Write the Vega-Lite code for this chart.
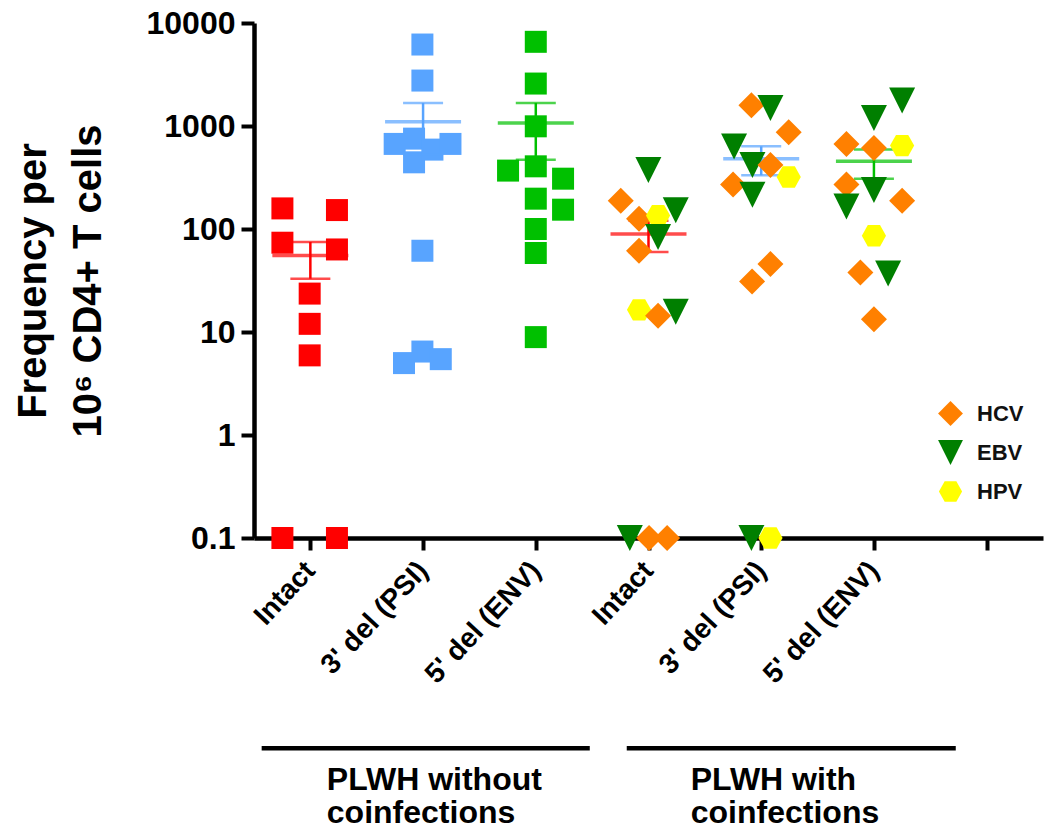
{
  "$schema": "https://vega.github.io/schema/vega-lite/v6.json",
  "autosize": {"type": "none"},
  "width": 789,
  "height": 515,
  "padding": {"left": 254, "top": 23, "right": 1, "bottom": 296},
  "background": "white",
  "config": {
    "view": {"stroke": null},
    "font": "Liberation Sans",
    "axis": {"grid": false, "domainColor": "black", "tickColor": "black", "labelColor": "black", "titleColor": "black", "labelFontWeight": "bold", "titleFontWeight": "bold", "labelFont": "Liberation Sans", "titleFont": "Liberation Sans"}
  },
  "datasets": {
    "plain": [
      {"type": "Intact", "x": 0.752, "y": 158.5}, {"type": "Intact", "x": 1.236, "y": 152.7}, {"type": "Intact", "x": 0.752, "y": 73.6}, {"type": "Intact", "x": 1.236, "y": 63.3}, {"type": "Intact", "x": 0.994, "y": 23.6}, {"type": "Intact", "x": 0.994, "y": 12.0}, {"type": "Intact", "x": 0.994, "y": 5.93}, {"type": "Intact", "x": 0.752, "y": 0.1}, {"type": "Intact", "x": 1.236, "y": 0.1},
      {"type": "3' del", "x": 1.994, "y": 6180}, {"type": "3' del", "x": 1.994, "y": 2762}, {"type": "3' del", "x": 1.748, "y": 670}, {"type": "3' del", "x": 1.92, "y": 754}, {"type": "3' del", "x": 1.92, "y": 444}, {"type": "3' del", "x": 2.083, "y": 590}, {"type": "3' del", "x": 2.243, "y": 670}, {"type": "3' del", "x": 1.994, "y": 61.5}, {"type": "3' del", "x": 1.831, "y": 4.99}, {"type": "3' del", "x": 1.994, "y": 6.46}, {"type": "3' del", "x": 2.157, "y": 5.45},
      {"type": "5' del", "x": 3.0, "y": 6566}, {"type": "5' del", "x": 3.0, "y": 2583}, {"type": "5' del", "x": 3.0, "y": 993}, {"type": "5' del", "x": 3.0, "y": 406}, {"type": "5' del", "x": 2.754, "y": 369}, {"type": "5' del", "x": 3.242, "y": 308}, {"type": "5' del", "x": 3.0, "y": 197}, {"type": "5' del", "x": 3.242, "y": 154}, {"type": "5' del", "x": 3.0, "y": 100}, {"type": "5' del", "x": 3.0, "y": 58.5}, {"type": "5' del", "x": 3.0, "y": 8.92}
    ],
    "stats": [
      {"type": "Intact", "x": 1, "mean": 55.3, "lo": 32.9, "hi": 74.8},
      {"type": "3' del", "x": 2, "mean": 1097, "lo": 530, "hi": 1675},
      {"type": "5' del", "x": 3, "mean": 1072, "lo": 471, "hi": 1675},
      {"type": "Intact", "x": 4, "mean": 89.4, "lo": 59.8, "hi": 120},
      {"type": "3' del", "x": 5, "mean": 482, "lo": 332, "hi": 635},
      {"type": "5' del", "x": 6, "mean": 454, "lo": 308, "hi": 590}
    ],
    "coinf": [
      {"virus": "EBV", "x": 3.999, "y": 374}, {"virus": "HCV", "x": 3.754, "y": 188}, {"virus": "EBV", "x": 4.242, "y": 152}, {"virus": "HCV", "x": 3.916, "y": 126}, {"virus": "HPV", "x": 4.085, "y": 135}, {"virus": "EBV", "x": 4.085, "y": 83.6}, {"virus": "HCV", "x": 3.916, "y": 61.5}, {"virus": "HPV", "x": 3.916, "y": 16.4}, {"virus": "HCV", "x": 4.085, "y": 14.4}, {"virus": "EBV", "x": 4.242, "y": 15.7}, {"virus": "EBV", "x": 3.834, "y": 0.1}, {"virus": "HCV", "x": 4.005, "y": 0.1}, {"virus": "HCV", "x": 4.165, "y": 0.1},
      {"virus": "HCV", "x": 4.913, "y": 1589}, {"virus": "EBV", "x": 5.082, "y": 1499}, {"virus": "HCV", "x": 5.244, "y": 869}, {"virus": "EBV", "x": 4.759, "y": 631}, {"virus": "EBV", "x": 4.922, "y": 419}, {"virus": "HCV", "x": 5.082, "y": 418}, {"virus": "HPV", "x": 5.244, "y": 320}, {"virus": "HCV", "x": 4.75, "y": 270}, {"virus": "EBV", "x": 4.922, "y": 215}, {"virus": "HCV", "x": 5.082, "y": 45.7}, {"virus": "HCV", "x": 4.919, "y": 31}, {"virus": "EBV", "x": 4.913, "y": 0.1}, {"virus": "HPV", "x": 5.082, "y": 0.1},
      {"virus": "EBV", "x": 6.25, "y": 1766}, {"virus": "EBV", "x": 6.0, "y": 1199}, {"virus": "HCV", "x": 5.756, "y": 670}, {"virus": "HCV", "x": 6.0, "y": 612}, {"virus": "HPV", "x": 6.25, "y": 645}, {"virus": "HCV", "x": 5.756, "y": 270}, {"virus": "EBV", "x": 6.0, "y": 239}, {"virus": "EBV", "x": 5.756, "y": 165}, {"virus": "HCV", "x": 6.25, "y": 188}, {"virus": "HPV", "x": 6.0, "y": 86}, {"virus": "HCV", "x": 5.88, "y": 37.9}, {"virus": "EBV", "x": 6.126, "y": 37.0}, {"virus": "HCV", "x": 6.0, "y": 13.3}
    ],
    "groups": [
      {"label": ["PLWH without", "coinfections"], "x1": 0.568, "x2": 3.479, "tx": 1.146},
      {"label": ["PLWH with", "coinfections"], "x1": 3.807, "x2": 6.726, "tx": 4.375}
    ]
  },
  "resolve": {"scale": {"color": "independent", "shape": "independent"}},
  "layer": [
    {
      "mark": {"type": "rule", "strokeDash": [5, 4], "strokeWidth": 2, "color": "#333333"},
      "encoding": {
        "x": {"datum": 3.56, "type": "quantitative", "scale": {"domain": [0.5, 7.5], "nice": false, "zero": false},
          "axis": {"values": [1, 2, 3, 4, 5, 6, 7], "title": null, "labelAngle": -47, "labelFontSize": 28, "labelPadding": 16, "labelOverlap": false, "labelBound": false, "domainWidth": 4.5, "tickWidth": 4, "tickSize": 12,
            "labelExpr": "[\"\", \"Intact\", \"3' del  (PSI)\", \"5' del (ENV)\", \"Intact\", \"3' del (PSI)\", \"5' del (ENV)\", \"\"][datum.value]"}},
        "y": {"datum": 0.115, "type": "quantitative", "scale": {"type": "log", "domain": [0.1, 10000], "nice": false},
          "axis": {"values": [0.1, 1, 10, 100, 1000, 10000], "format": "~r", "labelFontSize": 32, "labelPadding": 6, "labelOverlap": false, "domainWidth": 4.5, "tickWidth": 4, "tickSize": 13,
            "title": ["Frequency per", "10⁶ CD4+ T cells"], "titleFontSize": 40, "titleLineHeight": 55, "titlePadding": 38}},
        "y2": {"datum": 10000}
      }
    },
    {
      "data": {"name": "plain"},
      "mark": {"type": "point", "shape": "square", "filled": true, "opacity": 1, "size": 484},
      "encoding": {
        "x": {"field": "x", "type": "quantitative"},
        "y": {"field": "y", "type": "quantitative"},
        "color": {"field": "type", "type": "nominal", "scale": {"domain": ["Intact", "3' del", "5' del"], "range": ["#FF0000", "#58A4FF", "#00C000"]}, "legend": null}
      }
    },
    {
      "data": {"name": "stats"},
      "layer": [
        {"mark": {"type": "rule", "strokeWidth": 2.5},
         "encoding": {"x": {"field": "x", "type": "quantitative"}, "y": {"field": "lo", "type": "quantitative"}, "y2": {"field": "hi"},
           "color": {"field": "type", "type": "nominal", "scale": {"domain": ["Intact", "3' del", "5' del"], "range": ["#FF0000", "#58A4FF", "#00C000"]}, "legend": null}}},
        {"mark": {"type": "tick", "orient": "horizontal", "size": 40, "thickness": 2.5},
         "encoding": {"x": {"field": "x", "type": "quantitative"}, "y": {"field": "lo", "type": "quantitative"},
           "color": {"field": "type", "type": "nominal", "legend": null}}},
        {"mark": {"type": "tick", "orient": "horizontal", "size": 40, "thickness": 2.5},
         "encoding": {"x": {"field": "x", "type": "quantitative"}, "y": {"field": "hi", "type": "quantitative"},
           "color": {"field": "type", "type": "nominal", "legend": null}}},
        {"mark": {"type": "tick", "orient": "horizontal", "size": 76, "thickness": 3.5},
         "encoding": {"x": {"field": "x", "type": "quantitative"}, "y": {"field": "mean", "type": "quantitative"},
           "color": {"field": "type", "type": "nominal", "legend": null}}}
      ]
    },
    {
      "data": {"name": "coinf"},
      "mark": {"type": "point", "filled": true, "opacity": 1, "size": 676},
      "encoding": {
        "x": {"field": "x", "type": "quantitative"},
        "y": {"field": "y", "type": "quantitative"},
        "color": {"field": "virus", "type": "nominal", "scale": {"domain": ["HCV", "EBV", "HPV"], "range": ["#FF8000", "#007F00", "#FFFF00"]},
          "legend": {"orient": "none", "legendX": 684, "legendY": 378, "title": null, "padding": 0, "symbolSize": 620, "rowPadding": 14, "labelOffset": 14, "labelFontSize": 22, "labelFontWeight": "bold", "labelColor": "#111111", "symbolStrokeWidth": 0}},
        "shape": {"field": "virus", "type": "nominal", "scale": {"domain": ["HCV", "EBV", "HPV"], "range": ["diamond", "M-1,-1L1,-1L0,1Z", "M-0.93,0L-0.47,-0.82L0.47,-0.82L0.93,0L0.47,0.82L-0.47,0.82Z"]},
          "legend": {"orient": "none", "legendX": 684, "legendY": 378, "title": null, "padding": 0, "symbolSize": 620, "rowPadding": 14, "labelOffset": 14, "labelFontSize": 22, "labelFontWeight": "bold", "labelColor": "#111111", "symbolStrokeWidth": 0}}
      }
    },
    {
      "data": {"name": "groups"},
      "layer": [
        {"mark": {"type": "rule", "strokeWidth": 4.5, "color": "black"},
         "encoding": {"x": {"field": "x1", "type": "quantitative"}, "x2": {"field": "x2"}, "y": {"datum": 0.00091, "type": "quantitative"}}},
        {"mark": {"type": "text", "align": "left", "baseline": "top", "fontSize": 32, "fontWeight": "bold", "lineHeight": 33, "color": "black", "font": "Liberation Sans"},
         "encoding": {"x": {"field": "tx", "type": "quantitative"}, "y": {"datum": 0.000622, "type": "quantitative"}, "text": {"field": "label"}}}
      ]
    }
  ]
}
